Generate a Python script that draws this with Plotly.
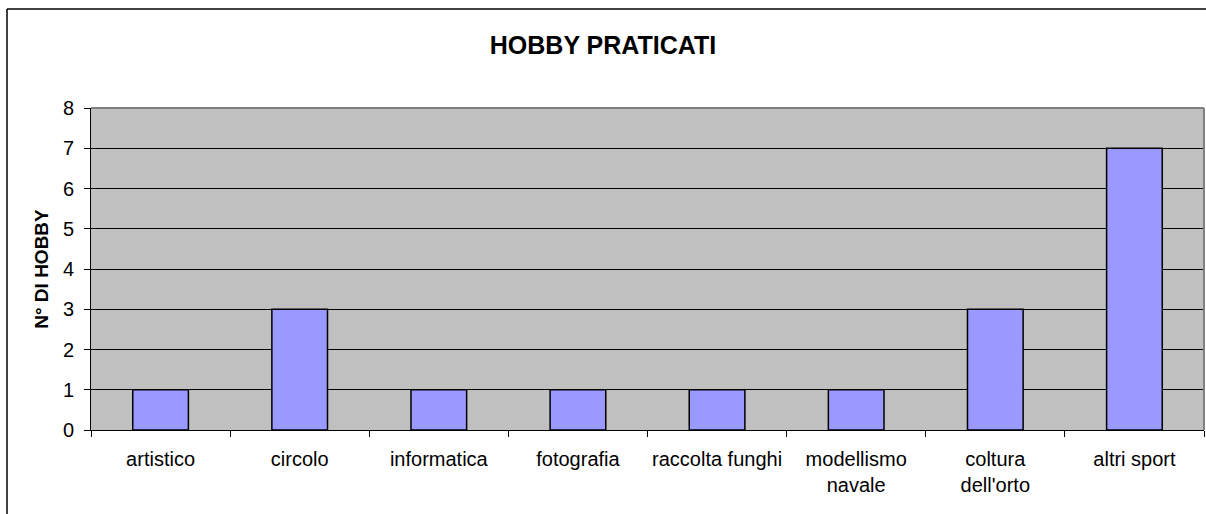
import plotly.graph_objects as go

categories = ["artistico", "circolo", "informatica", "fotografia", "raccolta funghi",
              "modellismo<br>navale", "coltura<br>dell'orto", "altri sport"]
counts = [1, 3, 1, 1, 1, 1, 3, 7]
y_ticks = [0, 1, 2, 3, 4, 5, 6, 7, 8]

fig = go.Figure(go.Bar(
    x=categories, y=counts, width=0.4,
    marker=dict(color="#9999FF", line=dict(color="#000000", width=1.5)),
))

font = "Liberation Sans, Arial, sans-serif"
fig.update_layout(
    width=1206, height=514,
    margin=dict(l=91, r=2, t=108, b=84),
    paper_bgcolor="#FFFFFF", plot_bgcolor="#C0C0C0",
    showlegend=False,
    font=dict(family=font, size=20, color="#000000"),
    title=dict(text="<b>HOBBY PRATICATI</b>", x=0.5, xanchor="center",
               y=1 - 45 / 514, yanchor="middle", font=dict(size=25, family=font)),
    xaxis=dict(tickson="boundaries", ticks="outside", ticklen=6, tickcolor="#000000",
               showline=True, linecolor="#000000", linewidth=1,
               showgrid=False, tickfont=dict(size=20), range=[-0.5, 7.5],
               ticklabelstandoff=11),
    yaxis=dict(range=[0, 8], tickvals=y_ticks, ticks="outside", ticklen=6,
               tickcolor="#000000", showline=True, linecolor="#000000", linewidth=1,
               showgrid=True, gridcolor="#000000", gridwidth=1, zeroline=False,
               tickfont=dict(size=20), ticklabelstandoff=6,
               title=dict(text="<b>N° DI HOBBY</b>", font=dict(size=19), standoff=9)),
    shapes=[
        # right and top edges of the plot area
        dict(type="line", xref="paper", yref="paper", x0=1, x1=1, y0=0, y1=1,
             line=dict(color="#808080", width=2)),
        dict(type="line", xref="paper", yref="paper", x0=0, x1=1, y0=1, y1=1,
             line=dict(color="#808080", width=2)),
        # chart frame
        dict(type="line", xref="paper", yref="paper", x0=-84 / 1113, x1=-84 / 1113,
             y0=(430 - 9) / 322, y1=(430 - 520) / 322, line=dict(color="#000000", width=1.5)),
        dict(type="line", xref="paper", yref="paper", x0=-84 / 1113, x1=1.01,
             y0=(430 - 9) / 322, y1=(430 - 9) / 322, line=dict(color="#000000", width=1.5)),
    ],
)

fig.write_html("out.html")
